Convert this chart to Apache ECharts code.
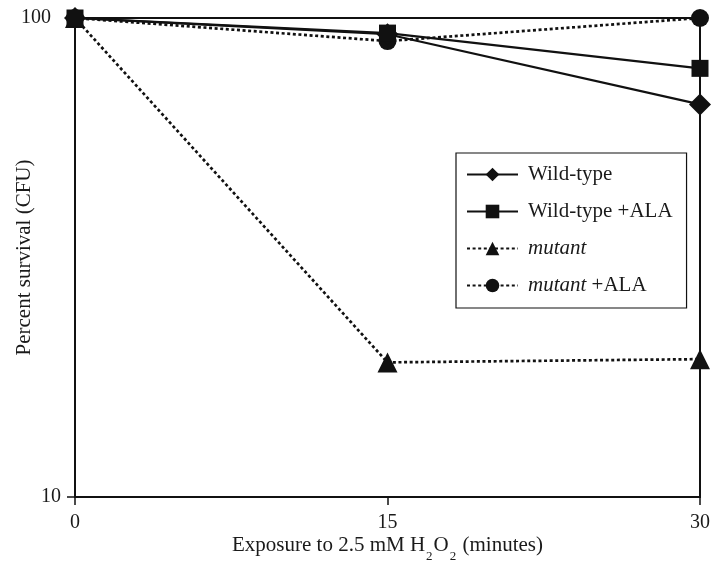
<!DOCTYPE html>
<html>
<head>
<meta charset="utf-8">
<script src="https://cdn.jsdelivr.net/npm/echarts@6/dist/echarts.min.js"></script>
<style>
  html, body { margin: 0; padding: 0; background: #fff; }
  #chart { width: 716px; height: 563px; }
</style>
</head>
<body>
<div id="chart"></div>
<script>
// Exposure times (minutes) and percent survival for each strain
const minutes = [0, 15, 30];
const wildType = [100, 92.5, 66];
const wildTypeAla = [100, 93, 78.5];
const mutant = [100, 19.1, 19.4];
const mutantAla = [100, 89.5, 100];
const seriesNames = ['Wild-type', 'Wild-type +ALA', 'mutant', 'mutant +ALA'];
const xTicks = [0, 15, 30];
const yTicks = [10, 100];

const INK = '#111';
const TEXT = '#1a1a1a';
const FONT = '"Liberation Serif", "Times New Roman", serif';

function pairs(values) {
  return minutes.map((m, i) => [m, values[i]]);
}

function lineSeries(name, values, symbol, size, dotted) {
  return {
    name: name,
    type: 'line',
    data: pairs(values),
    symbol: symbol,
    symbolSize: size,
    showSymbol: true,
    itemStyle: { color: INK },
    lineStyle: dotted
      ? { color: INK, width: 2.7, type: [3, 2.6], cap: 'butt' }
      : { color: INK, width: 2.2, type: 'solid' },
    emphasis: { disabled: true },
    z: dotted ? 3 : 4
  };
}

const chart = echarts.init(document.getElementById('chart'), null, { renderer: 'canvas' });

chart.setOption({
  animation: false,
  backgroundColor: '#fff',
  grid: {
    left: 75, right: 16, top: 18, bottom: 66,
    containLabel: false,
    outerBoundsMode: 'none',
    show: true, borderColor: INK, borderWidth: 2, backgroundColor: 'transparent'
  },
  legend: {
    data: seriesNames,
    orient: 'vertical',
    left: 456,
    top: 153,
    padding: [11, 14, 12, 10],
    itemGap: 16,
    itemWidth: 51,
    itemHeight: 17,
    borderColor: INK,
    borderWidth: 1.2,
    backgroundColor: '#fff',
    selectedMode: false,
    formatter: function (name) {
      return name.replace(/^mutant/, '{i|mutant}');
    },
    textStyle: {
      fontFamily: FONT, fontSize: 21, color: TEXT,
      padding: [0, 0, 0, 5],
      rich: {
        i: { fontFamily: FONT, fontSize: 21, fontStyle: 'italic', color: TEXT }
      }
    }
  },
  xAxis: {
    type: 'value',
    min: 0, max: 30, interval: 15,
    name: '{t|Exposure to 2.5 mM H}{s|2}{t|O}{s|2}{t| (minutes)}',
    nameLocation: 'middle',
    nameGap: 38,
    nameMoveOverlap: false,
    nameTextStyle: {
      fontFamily: FONT, fontSize: 21, color: TEXT,
      rich: {
        t: { fontFamily: FONT, fontSize: 21, color: TEXT, lineHeight: 21, verticalAlign: 'top' },
        s: { fontFamily: FONT, fontSize: 13, color: TEXT, lineHeight: 13, verticalAlign: 'top', padding: [15, 1, 0, 1] }
      }
    },
    axisLine: { show: true, onZero: false, lineStyle: { color: INK, width: 2 } },
    axisTick: { show: true, inside: false, length: 8, lineStyle: { color: INK, width: 1.5 } },
    axisLabel: {
      margin: 16, fontFamily: FONT, fontSize: 20, color: TEXT,
      customValues: xTicks
    },
    splitLine: { show: false }
  },
  yAxis: {
    type: 'log',
    logBase: 10,
    min: 10, max: 100,
    name: 'Percent survival (CFU)',
    nameLocation: 'middle',
    nameGap: 40,
    nameRotate: 90,
    nameMoveOverlap: false,
    nameTextStyle: { fontFamily: FONT, fontSize: 21, color: TEXT },
    axisLine: { show: true, onZero: false, lineStyle: { color: INK, width: 2 } },
    axisTick: { show: true, inside: false, length: 8, lineStyle: { color: INK, width: 1.5 } },
    axisLabel: {
      margin: 14, fontFamily: FONT, fontSize: 20, color: TEXT,
      formatter: function (v) {
        return yTicks.indexOf(v) === yTicks.length - 1 ? '{w|' + v + '}' : '{n|' + v + '}';
      },
      rich: {
        w: { fontFamily: FONT, fontSize: 20, color: TEXT, padding: [0, 10, 0, 0] },
        n: { fontFamily: FONT, fontSize: 20, color: TEXT }
      }
    },
    splitLine: { show: false },
    minorTick: { show: false }
  },
  series: [
    lineSeries(seriesNames[0], wildType, 'diamond', 22, false),
    lineSeries(seriesNames[1], wildTypeAla, 'rect', 17, false),
    lineSeries(seriesNames[2], mutant, 'triangle', 20, true),
    lineSeries(seriesNames[3], mutantAla, 'circle', 18, true)
  ]
});
</script>
</body>
</html>
